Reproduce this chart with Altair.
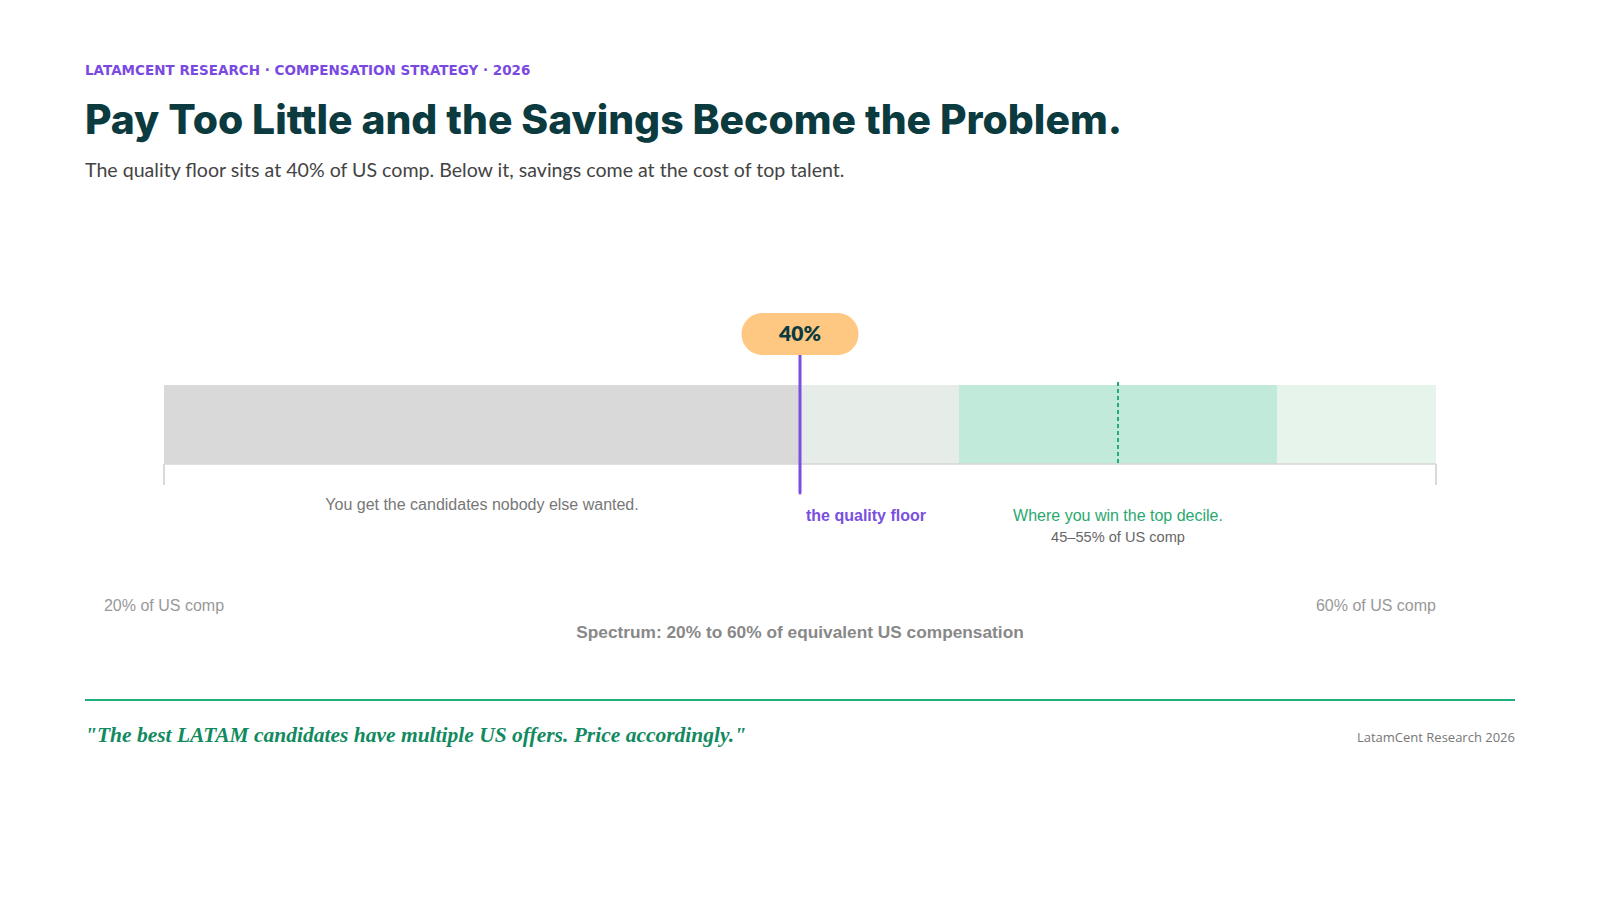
import altair as alt
import pandas as pd

# ---------------- data ----------------
seg_start = [20, 40, 45, 55]
seg_end = [40, 45, 55, 60]
seg_name = ["Below the floor", "Floor to band", "Top-decile band", "Above band"]
seg_color = ["#d9d9d9", "#e6ede9", "#c2eadb", "#e7f4ec"]

floor_value = [40]
floor_label = ["40%"]
band_mid = [50]
range_ends = [20, 60]
end_labels = ["20% of US comp", "60% of US comp"]
below_mid = [30]

eyebrow = "LATAMCENT RESEARCH · COMPENSATION STRATEGY · 2026"
title = "Pay Too Little and the Savings Become the Problem."
subtitle = "The quality floor sits at 40% of US comp. Below it, savings come at the cost of top talent."
below_text = "You get the candidates nobody else wanted."
floor_text = "the quality floor"
band_text = "Where you win the top decile."
band_sub = "45–55% of US comp"
axis_caption = "Spectrum: 20% to 60% of equivalent US compensation"
quote = "\"The best LATAM candidates have multiple US offers. Price accordingly.\""
source = "LatamCent Research 2026"

# ---------------- tables ----------------
segs = pd.DataFrame({"start": seg_start, "end": seg_end, "name": seg_name, "color": seg_color})
floor_df = pd.DataFrame({"v": floor_value, "label": floor_label})
band_df = pd.DataFrame({"v": band_mid, "t1": [band_text], "t2": [band_sub]})
ends_df = pd.DataFrame({"v": range_ends, "label": end_labels})
base_df = pd.DataFrame({"a": [range_ends[0]], "b": [range_ends[1]]})
below_df = pd.DataFrame({"v": below_mid, "t": [below_text]})
one = pd.DataFrame({"k": [0]})

W, H = 1584, 884
xs = alt.Scale(domain=[20, 60], range=[156, 1428])
X = lambda f: alt.X(f, type="quantitative", scale=xs, axis=None)

BAR_TOP, BAR_BOT = 377, 456

bars = alt.Chart(segs).mark_rect().encode(
    x=X("start"), x2="end",
    y=alt.value(BAR_TOP), y2=alt.value(BAR_BOT),
    color=alt.Color("color:N", scale=None),
    tooltip=["name:N", "start:Q", "end:Q"],
)

baseline = alt.Chart(base_df).mark_rule(color="#d6d6d6", strokeWidth=1.5).encode(
    x=X("a"), x2="b", y=alt.value(BAR_BOT)
)
end_ticks = alt.Chart(ends_df).mark_rule(color="#cccccc", strokeWidth=1.5).encode(
    x=X("v"), y=alt.value(BAR_BOT), y2=alt.value(477)
)

dashed = alt.Chart(band_df).mark_rule(color="#2aa876", strokeWidth=2, strokeDash=[4, 3]).encode(
    x=X("v"), y=alt.value(374), y2=alt.value(458)
)

floor_rule = alt.Chart(floor_df).mark_rule(color="#7a4fe0", strokeWidth=3, strokeCap="round").encode(
    x=X("v"), y=alt.value(347), y2=alt.value(485)
)

pill_path = ("M-0.641,-0.359L0.641,-0.359A0.359,0.359,0,0,1,0.641,0.359"
             "L-0.641,0.359A0.359,0.359,0,0,1,-0.641,-0.359Z")
pill = alt.Chart(floor_df).mark_point(
    shape=pill_path, size=117 * 117, filled=True, fill="#fec882", opacity=1, strokeWidth=0
).encode(x=X("v"), y=alt.value(326))

pill_text = alt.Chart(floor_df).mark_text(
    font="Lato", fontWeight=800, fontSize=21, color="#0b3a3f", baseline="middle"
).encode(x=X("v"), y=alt.value(327), text="label:N")

below_lbl = alt.Chart(below_df).mark_text(
    font="Liberation Sans", fontSize=16, color="#777777", baseline="middle"
).encode(x=X("v"), y=alt.value(497), text="t:N")

floor_lbl = alt.Chart(floor_df.assign(t=floor_text)).mark_text(
    font="Liberation Sans", fontWeight="bold", fontSize=16, color="#7a4fe0",
    baseline="middle", align="left", dx=6
).encode(x=X("v"), y=alt.value(508), text="t:N")

band_lbl = alt.Chart(band_df).mark_text(
    font="Liberation Sans", fontSize=16, color="#2aa86e", baseline="middle"
).encode(x=X("v"), y=alt.value(508), text="t1:N")
band_lbl2 = alt.Chart(band_df).mark_text(
    font="Liberation Sans", fontSize=14.6, color="#666666", baseline="middle"
).encode(x=X("v"), y=alt.value(530), text="t2:N")

end_lbl_l = alt.Chart(ends_df.iloc[[0]]).mark_text(
    font="Liberation Sans", fontSize=16, color="#999999", baseline="middle", align="center"
).encode(x=X("v"), y=alt.value(598), text="label:N")
end_lbl_r = alt.Chart(ends_df.iloc[[1]]).mark_text(
    font="Liberation Sans", fontSize=16, color="#999999", baseline="middle", align="right"
).encode(x=X("v"), y=alt.value(598), text="label:N")

caption = alt.Chart(floor_df.assign(t=axis_caption)).mark_text(
    font="Liberation Sans", fontWeight="bold", fontSize=17.3, color="#888888", baseline="middle"
).encode(x=X("v"), y=alt.value(625), text="t:N")

# header / footer
eyebrow_t = alt.Chart(one).mark_text(
    font="DejaVu Sans", fontWeight="bold", fontSize=13.5, color="#7a4ae0",
    align="left", baseline="middle"
).encode(x=alt.value(77), y=alt.value(63), text=alt.value(eyebrow))

title_t = alt.Chart(one).mark_text(
    font="Inter", fontWeight=800, fontSize=40.8, color="#0b3a3f",
    align="left", baseline="middle"
).encode(x=alt.value(77), y=alt.value(114), text=alt.value(title))

subtitle_t = alt.Chart(one).mark_text(
    font="Lato", fontSize=19.6, color="#444444", align="left", baseline="middle"
).encode(x=alt.value(77), y=alt.value(163), text=alt.value(subtitle))

footer_rule = alt.Chart(one).mark_rule(color="#22b07a", strokeWidth=2).encode(
    x=alt.value(77), x2=alt.value(1507), y=alt.value(692)
)
quote_t = alt.Chart(one).mark_text(
    font="Liberation Serif", fontStyle="italic", fontWeight="bold", fontSize=21.5,
    color="#128a60", align="left", baseline="middle"
).encode(x=alt.value(77), y=alt.value(728), text=alt.value(quote))
source_t = alt.Chart(one).mark_text(
    font="Open Sans", fontSize=13, color="#777777", align="right", baseline="middle"
).encode(x=alt.value(1507), y=alt.value(730), text=alt.value(source))

chart = alt.layer(
    bars, baseline, end_ticks, dashed, floor_rule, pill, pill_text,
    below_lbl, floor_lbl, band_lbl, band_lbl2, end_lbl_l, end_lbl_r, caption,
    eyebrow_t, title_t, subtitle_t, footer_rule, quote_t, source_t,
).properties(
    width=W, height=H, autosize=alt.AutoSizeParams(type="none"), padding=0,
    background="#ffffff",
).configure_view(stroke=None)

chart.save("out.html", embed_options={"renderer": "svg", "actions": False})
